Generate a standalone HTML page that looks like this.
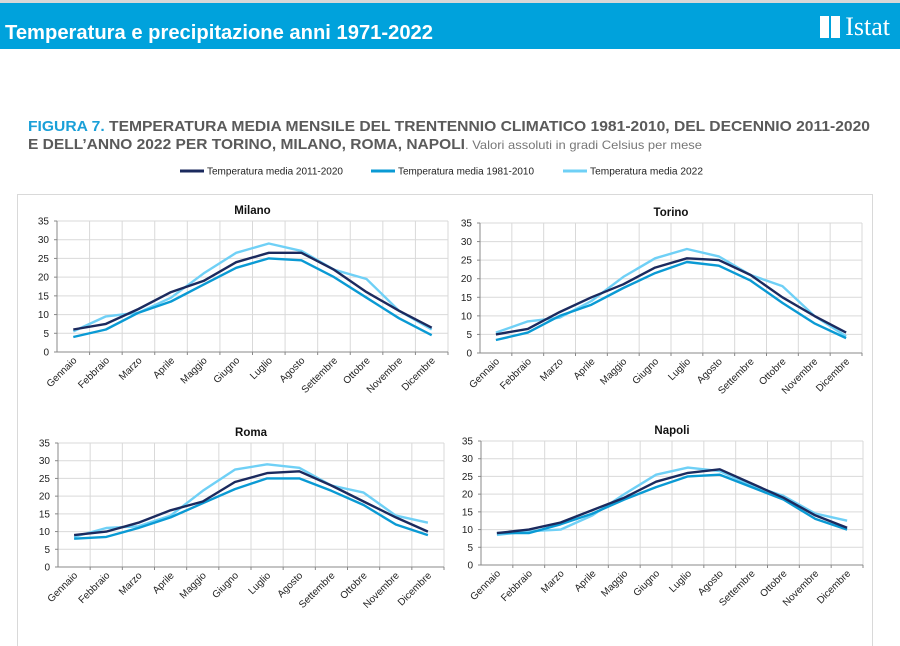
<!DOCTYPE html>
<html><head><meta charset="utf-8">
<style>
body{margin:0;width:900px;height:646px;background:#fff;overflow:hidden;font-family:"Liberation Sans",sans-serif;position:relative}
.top{position:absolute;left:0;top:0;width:900px;height:3px;background:#d8d8d8}
.bar{position:absolute;left:0;top:3px;width:900px;height:46px;background:#00a2dc}
.bar .logo{position:absolute;right:10px;top:9px;color:#fff;font-family:"Liberation Serif",serif;font-size:26px}
</style></head><body>
<div class="top"></div>
<div class="bar">
<div class="logo"><span style="display:inline-block;width:9px;height:22px;background:#fff;margin-right:2px;vertical-align:-3px"></span><span style="display:inline-block;width:9px;height:22px;background:#fff;margin-right:5px;vertical-align:-3px"></span>Istat</div></div>
<svg id="s" width="900" height="646" style="position:absolute;left:0;top:0" xmlns="http://www.w3.org/2000/svg"></svg>
<script>
var s=document.getElementById('s');var h='';
var C=['#1b2a5e','#0a9ad4','#6fd0f6'];
h+='<text x="5" y="39" font-size="20" font-weight="bold" fill="#fff" textLength="428" lengthAdjust="spacingAndGlyphs">Temperatura e precipitazione anni 1971-2022</text>';
h+='<text x="28" y="131" font-size="15" font-weight="bold" fill="#5a5a5a" textLength="842" lengthAdjust="spacingAndGlyphs"><tspan fill="#1aa0d8">FIGURA 7.</tspan> TEMPERATURA MEDIA MENSILE DEL TRENTENNIO CLIMATICO 1981-2010, DEL DECENNIO 2011-2020</text>';
h+='<text x="28" y="149" font-size="15" font-weight="bold" fill="#5a5a5a" textLength="437" lengthAdjust="spacingAndGlyphs">E DELL’ANNO 2022 PER TORINO, MILANO, ROMA, NAPOLI</text>';
h+='<text x="465" y="149" font-size="12" fill="#777" textLength="237" lengthAdjust="spacingAndGlyphs">. Valori assoluti in gradi Celsius per mese</text>';
h+='<rect x="17.5" y="194.5" width="855" height="460" fill="none" stroke="#d9d9d9"/>';
var lg=[['Temperatura media 2011-2020',180],['Temperatura media 1981-2010',371],['Temperatura media 2022',563]];
lg.forEach(function(l,i){h+='<line x1="'+l[1]+'" y1="171" x2="'+(l[1]+24)+'" y2="171" stroke="'+C[i]+'" stroke-width="3"/><text x="'+(l[1]+27)+'" y="174.5" font-size="10" fill="#222" textLength="'+(i==2?113:136)+'" lengthAdjust="spacingAndGlyphs">'+l[0]+'</text>';});
var M=['Gennaio','Febbraio','Marzo','Aprile','Maggio','Giugno','Luglio','Agosto','Settembre','Ottobre','Novembre','Dicembre'];
var P=[
['Milano',57,448,352,221,[[6,7.5,11.5,16,19,24,26.5,26.5,22,16,11,6.5],[4,6,10.5,13.5,18,22.5,25,24.5,20,14.5,9,4.5],[5.5,9.5,10.5,14.5,21,26.5,29,27,22,19.5,11,6]]],
['Torino',480,862,353,223,[[5,6.5,11,15,18.5,23,25.5,25,21,15,10,5.5],[3.5,5.5,10,13,17.5,21.5,24.5,23.5,19.5,13.5,8,4],[5.5,8.5,9.5,14,20.5,25.5,28,26,21,18,10,4.5]]],
['Roma',58,444,567,443,[[9,10,12.5,16,18.5,24,26.5,27,23,18.5,14,10],[8,8.5,11,14,18,22,25,25,21.5,17.5,12,9],[8.5,11,11.5,14.5,21.5,27.5,29,28,23,21,14.5,12.5]]],
['Napoli',481,863,565,441,[[9,10,12,15.5,19,23.5,26,27,23,19,14,10.5],[9,9,11.5,14.5,18.5,22,25,25.5,22,18.5,13,10],[8.5,9.5,10,14,20,25.5,27.5,26.5,22.5,19.5,14.5,12.5]]]];
P.forEach(function(p){
 var x0=p[1],x1=p[2],y0=p[3],y1=p[4],w=(x1-x0)/12,dy=(y0-y1)/35;
 for(var k=1;k<=7;k++){var y=y0-k*5*dy;h+='<line x1="'+x0+'" y1="'+y+'" x2="'+x1+'" y2="'+y+'" stroke="#d9d9d9"/>';}
 for(var i=1;i<=12;i++){var x=x0+i*w;h+='<line x1="'+x+'" y1="'+y1+'" x2="'+x+'" y2="'+y0+'" stroke="#d9d9d9"/><line x1="'+x+'" y1="'+y0+'" x2="'+x+'" y2="'+(y0+3)+'" stroke="#888"/>';}
 h+='<line x1="'+x0+'" y1="'+y1+'" x2="'+x0+'" y2="'+y0+'" stroke="#888"/><line x1="'+x0+'" y1="'+y0+'" x2="'+x1+'" y2="'+y0+'" stroke="#888"/>';
 for(var k=0;k<=7;k++){var y=y0-k*5*dy;h+='<line x1="'+(x0-3)+'" y1="'+y+'" x2="'+x0+'" y2="'+y+'" stroke="#888"/><text x="'+(x0-8)+'" y="'+(y+3.5)+'" font-size="10" text-anchor="end" fill="#222">'+(k*5)+'</text>';}
 h+='<text x="'+((x0+x1)/2)+'" y="'+(y1-7)+'" font-size="11.5" font-weight="bold" text-anchor="middle" fill="#111">'+p[0]+'</text>';
 for(var i=0;i<12;i++){var x=x0+(i+0.5)*w+4,y=y0+9;h+='<text transform="translate('+x+','+y+') rotate(-45)" font-size="10" text-anchor="end" fill="#222">'+M[i]+'</text>';}
 [2,1,0].forEach(function(j){var d=p[5][j].map(function(v,i){return (i?'L':'M')+(x0+(i+0.5)*w).toFixed(1)+','+(y0-v*dy).toFixed(1);}).join('');
 h+='<path d="'+d+'" fill="none" stroke="'+C[j]+'" stroke-width="2.4" stroke-linejoin="round"/>';});
});
s.innerHTML=h;
</script>
</body></html>
